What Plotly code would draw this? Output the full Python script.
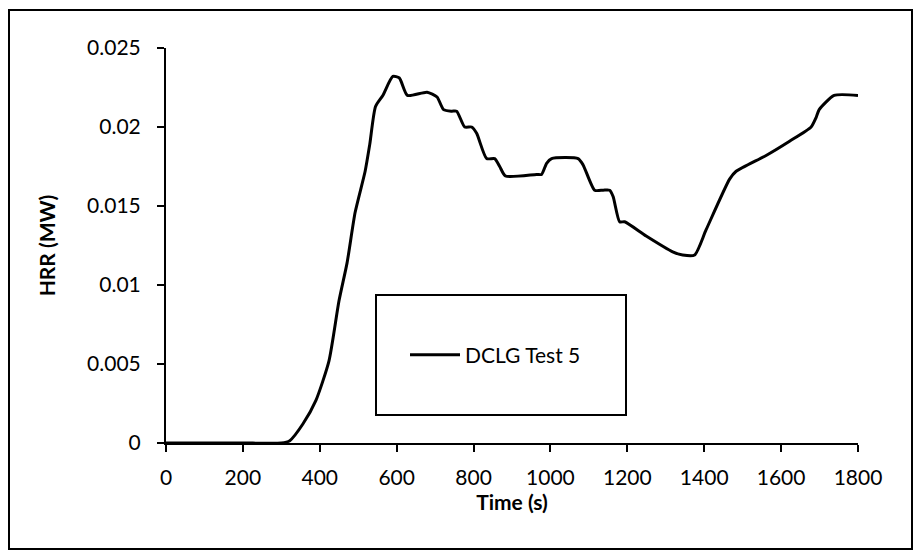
import plotly.graph_objects as go

# Data (time in s, HRR in MW)
time_s = [0, 100, 200, 300, 322, 356, 390, 424, 450, 471, 492, 518, 530, 545, 564, 590, 607,
          628, 679, 705, 722, 743, 756, 777, 795, 808, 834, 855, 868, 883, 964, 977, 990,
          1003, 1072, 1085, 1115, 1137, 1154, 1163, 1180, 1193, 1249, 1318, 1344, 1375,
          1405, 1466, 1483, 1561, 1622, 1678, 1691, 1699, 1738, 1800]
hrr_mw = [0, 0, 0, 0, 0.00015, 0.0012, 0.0027, 0.0052, 0.0090, 0.0114, 0.0146, 0.0172, 0.0189,
          0.0213, 0.0220, 0.0232, 0.0231, 0.0220, 0.0222, 0.0219, 0.0211, 0.0210, 0.0210,
          0.0200, 0.0200, 0.0196, 0.0180, 0.0180, 0.0175, 0.0169, 0.0170, 0.0170, 0.0177,
          0.0180, 0.0180, 0.0176, 0.0160, 0.0160, 0.0160, 0.0156, 0.0140, 0.0140, 0.0131,
          0.0121, 0.0119, 0.0119, 0.0135, 0.0167, 0.0172, 0.0182, 0.0191, 0.0200, 0.0206,
          0.0211, 0.0220, 0.0220]
series_name = "DCLG Test 5"
x_ticks = [0, 200, 400, 600, 800, 1000, 1200, 1400, 1600, 1800]
y_ticks = [0, 0.005, 0.01, 0.015, 0.02, 0.025]
y_tick_text = ["0", "0.005", "0.01", "0.015", "0.02", "0.025"]

FONT = "Lato"
W, H = 915, 552
L, R, T, B = 166, 57, 48, 109
pw, ph = W - L - R, H - T - B


def px_x(p):
    return (p - L) / pw


def px_y(p):
    return (H - B - p) / ph


fig = go.Figure()
fig.add_trace(go.Scatter(x=time_s, y=hrr_mw, mode="lines", name=series_name,
                         line=dict(color="black", width=3, shape="spline", smoothing=0.6)))

fig.update_layout(
    width=W, height=H,
    margin=dict(l=L, r=R, t=T, b=B),
    paper_bgcolor="white", plot_bgcolor="white",
    font=dict(family=FONT, size=21, color="black"),
    showlegend=True,
    legend=dict(x=px_x(405), y=px_y(355), xanchor="left", yanchor="middle",
                bgcolor="rgba(0,0,0,0)", borderwidth=0, itemwidth=50,
                font=dict(family=FONT, size=21, color="black")),
    xaxis=dict(range=[0, 1800], tickvals=x_ticks, showgrid=False, zeroline=False,
               showline=True, linecolor="black", linewidth=2,
               ticks="outside", ticklen=7, tickwidth=2, tickcolor="black",
               tickfont=dict(family=FONT, size=21), ticklabelstandoff=8,
               title=dict(text="<b>Time (s)</b>", font=dict(family=FONT, size=21), standoff=0)),
    yaxis=dict(range=[0, 0.025], tickvals=y_ticks, ticktext=y_tick_text, showgrid=False,
               zeroline=False, showline=True, linecolor="black", linewidth=2,
               ticks="outside", ticklen=7, tickwidth=2, tickcolor="black",
               tickfont=dict(family=FONT, size=21), ticklabelstandoff=12,
               title=dict(text="<b>HRR (MW)</b>", font=dict(family=FONT, size=21), standoff=26)),
    shapes=[
        dict(type="rect", xref="paper", yref="paper",
             x0=px_x(376), x1=px_x(626), y0=px_y(415), y1=px_y(295),
             line=dict(color="black", width=2), fillcolor="rgba(0,0,0,0)"),
        dict(type="rect", xref="paper", yref="paper",
             x0=px_x(9), x1=px_x(912), y0=px_y(549), y1=px_y(10),
             line=dict(color="black", width=2), fillcolor="rgba(0,0,0,0)"),
    ],
)

fig.write_html("out.html")
